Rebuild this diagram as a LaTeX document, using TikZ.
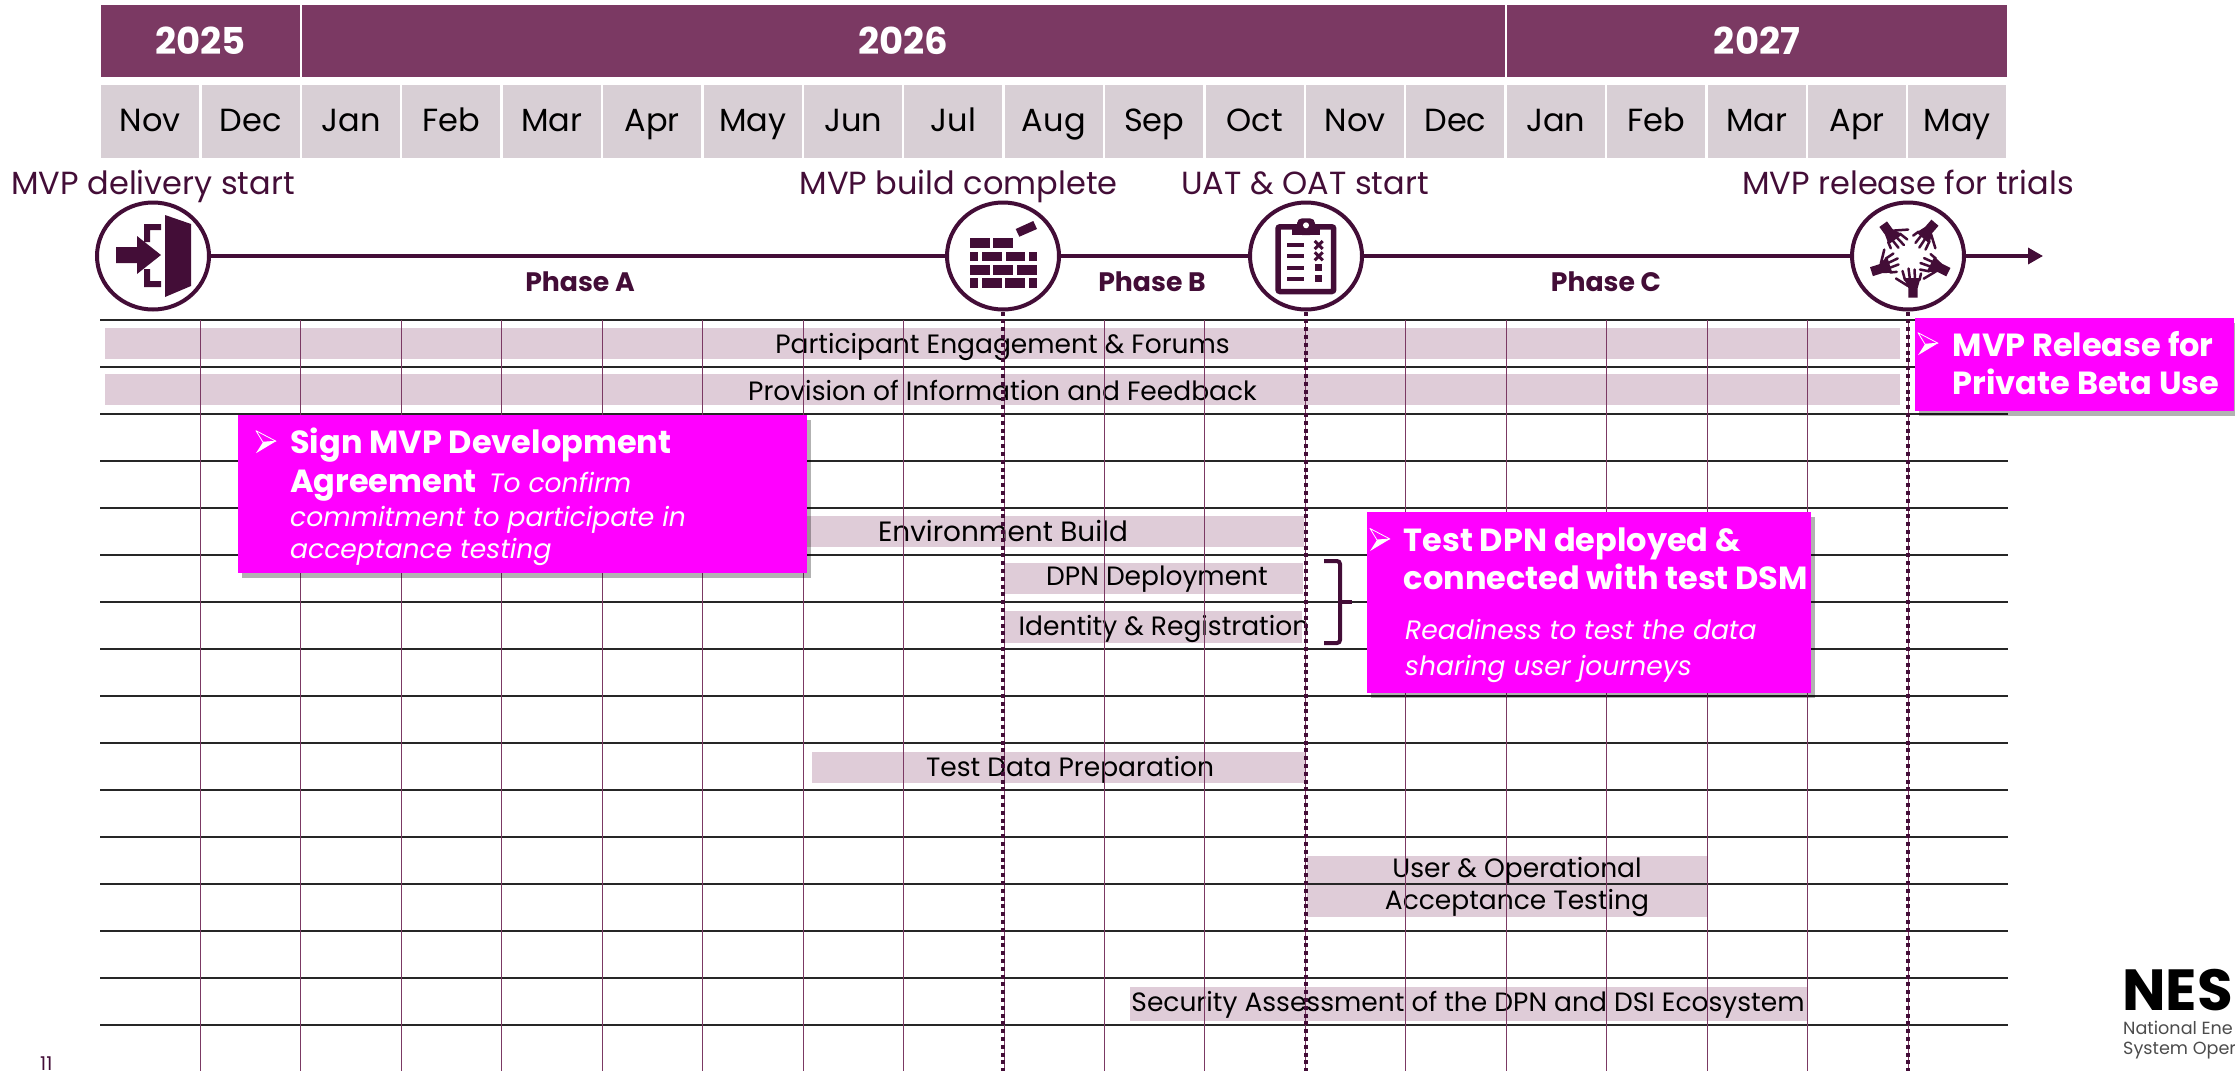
\documentclass[tikz,border=0pt]{standalone}
\usepackage{fontspec}
\setmainfont{Poppins}
\usetikzlibrary{matrix, positioning, arrows.meta, shapes.geometric, shadows}

\definecolor{plum}{HTML}{430D37}
\definecolor{yearfill}{HTML}{7B3963}
\definecolor{monthfill}{HTML}{D8CFD5}
\definecolor{barfill}{HTML}{DFCCD8}
\definecolor{calloutfill}{HTML}{FF00FF}
\newcommand{\sized}[1]{\fontsize{#1}{#1}\selectfont}

\tikzset{
  pics/openhand/.style={code={
    \fill[plum] (-6.5,22) -- (10.5,22) -- (7.7,32) -- (7.7,41.5) -- (-1.7,41.5) -- (-1.7,32) -- cycle;
    \draw[plum, line width=2.5pt, line cap=round]
      (-5,24) -- (-7.5,15) (0,24) -- (-1.5,12.5) (5,24) -- (4.5,13.5) (9.5,24) -- (11,17.5)
      (-2,30) -- (-14,22.5);
  }},
  pics/calltick/.style={code={
    \draw[white, line width=.8pt, line join=round] (-10,-11) -- (10,-0.5) -- (-3,0.5) -- cycle;
    \fill[white] (-3,0.5) -- (10,-0.5) -- (-10,11.5) -- cycle;
  }}
}

\begin{document}
\begin{tikzpicture}[
    x=1pt, y=-1pt,
    yearcell/.style={fill=yearfill, text=white, font=\sized{37}\bfseries, inner sep=0, outer sep=0, minimum height=72pt, anchor=west},
    month-row/.style={matrix of nodes, inner sep=0, column sep=2.4pt, nodes={fill=monthfill, text=black, font=\sized{32}, inner sep=0, minimum width=98pt, minimum height=73pt, text height=23pt, text depth=2.6pt}},
    milestone/.style={ellipse, draw=plum, line width=4pt, fill=white, minimum width=112pt, minimum height=107pt, inner sep=0},
    milestonelabel/.style={text=plum, font=\sized{32}, anchor=base, inner sep=0},
    phaselabel/.style={text=plum, font=\sized{26.7}\bfseries, inner sep=0},
    timeline/.style={draw=plum, line width=4pt},
    bar/.style={fill=barfill, inner sep=0, outer sep=0},
    barlabel/.style={text=black, font=\sized{26.5}, inner sep=0, text height=19pt, text depth=0pt},
    gridrow/.style={draw=black!85, line width=1.4pt},
    gridcol/.style={draw=yearfill, line width=1pt},
    gatedots/.style={draw=plum, line width=4pt, dash pattern=on 4pt off 3.8pt},
    callout/.style={fill=calloutfill, inner sep=0, outer sep=0, anchor=north west, drop shadow={shadow xshift=4pt, shadow yshift=-5pt, fill=black, opacity=.3}},
    calltitle/.style={text=white, font=\sized{32}\bfseries, anchor=base west, inner sep=0},
    callnote/.style={text=white, font=\sized{26.6}\itshape, anchor=base west, inner sep=0}
  ]

  \useasboundingbox (0,0) rectangle (2235,1071);
  \coordinate (gridbottom) at (0,1071);

  % header
  \node (y2025) [yearcell, minimum width=199pt] at (101,41) {2025};
  \node (y2026) [yearcell, minimum width=1203pt, right=2pt of y2025] {2026};
  \node (y2027) [yearcell, minimum width=500pt, right=2pt of y2026] {2027};

  \matrix (months) [month-row, anchor=north west] at (101,85) {
    Nov & Dec & Jan & Feb & Mar & Apr & May & Jun & Jul & Aug & Sep & Oct & Nov & Dec & Jan & Feb & Mar & Apr & May \\
  };

  % activity bars
  \node (engage) [bar, barlabel, minimum width=1795pt, minimum height=31pt] at (1002.5,343.5) {Participant Engagement \& Forums};
  \node (inform) [bar, minimum width=1795pt, minimum height=31pt] at (1002.5,389.5) {};
  \node (envbar) [bar, barlabel, font=\sized{27.9}, minimum width=602pt, minimum height=31pt] at (1003,531.5) {Environment Build};
  \node (dpnbar) [bar, minimum width=298pt, minimum height=31pt] at (1154,578.5) {};
  \node (idbar) [bar, minimum width=298pt, minimum height=32pt] at (1153,627) {};
  \node (databar) [bar, minimum width=493pt, minimum height=31pt] at (1058.5,767.5) {};
  \node (uatbar) [bar, minimum width=400pt, minimum height=61pt] at (1507,886.5) {};
  \node (secbar) [bar, minimum width=678pt, minimum height=34pt] at (1469,1004) {};
  \node (informlabel) [barlabel] at (1002.5,390.5) {Provision of Information and Feedback};
  \node (dpnlabel) [barlabel] at (1157,576) {DPN Deployment};
  \node (idlabel) [barlabel] at (1164,625.5) {Identity \& Registration};
  \node (datalabel) [barlabel] at (1070,767) {Test Data Preparation};
  \node (uatlabela) [barlabel] at (1517,867.5) {User \& Operational};
  \node (uatlabelb) [barlabel] at (1517,899.5) {Acceptance Testing};
  \node (seclabel) [barlabel] at (1468,1002) {Security Assessment of the DPN and DSI Ecosystem};

  % grid
  \foreach \row in {0,...,15}
    \draw[gridrow] (100,{320+47*\row}) -- (2008,{320+47*\row});
  \foreach \col in {1,...,18}
    \draw[gridcol] ({100+100.45*\col},320) -- ({100+100.45*\col},1071);

  % milestones
  \node (start) [milestone] at (153,256) {};
  \node (build) [milestone] at (1003,256) {};
  \node (uat) [milestone] at (1306,256) {};
  \node (trials) [milestone] at (1908,256) {};
  \coordinate (lineend) at (2043,256);

  \draw[timeline] (start) -- (build);
  \draw[timeline] (build) -- (uat);
  \draw[timeline] (uat) -- (trials);
  \draw[timeline, line width=3.4pt, -{Triangle[length=15pt, width=16pt]}] (trials) -- (lineend);

  \draw[gatedots] (build.south) -- (build.south |- gridbottom);
  \draw[gatedots] (uat.south) -- (uat.south |- gridbottom);
  \draw[gatedots] (trials.south) -- (trials.south |- gridbottom);

  \node [milestonelabel] at (153,194) {MVP delivery start};
  \node [milestonelabel] at (958.5,194) {MVP build complete};
  \node [milestonelabel] at (1305,194) {UAT \& OAT start};
  \node [milestonelabel] at (1908,194) {MVP release for trials};

  \node [phaselabel] at (580,282) {Phase A};
  \node [phaselabel] at (1152,282) {Phase B};
  \node [phaselabel] at (1606,282) {Phase C};

  % door icon
  \fill[plum] (116,247) -- (137,247) -- (137,236) -- (161,255) -- (137,274) -- (137,263) -- (116,263) -- cycle;
  \fill[plum] (165,215) -- (191,224) -- (191,286) -- (165,297) -- cycle;
  \fill[plum] (161,224) -- (144,224) -- (144,242) -- (150,242) -- (150,230) -- (161,230) -- cycle;
  \fill[plum] (161,287) -- (144,287) -- (144,269) -- (150,269) -- (150,281) -- (161,281) -- cycle;

  % brick icon
  \foreach \xa/\xb/\ya in {970/989.7/238.3, 993/1013/238.3,
      970/978/251.7, 982/1002/251.7, 1005.7/1025/251.7, 1029/1037/251.7,
      970/990/265, 993/1013/265, 1017.3/1037/265,
      970/978/278.3, 981.7/1001.7/278.3, 1005/1025/278.3, 1029/1037/278.3}
    \fill[plum] (\xa,\ya) rectangle (\xb,\ya+9.5);
  \fill[plum] (1015.7,229) -- (1033.3,221) -- (1037,229) -- (1019.3,236.7) -- cycle;

  % clipboard icon
  \draw[plum, line width=5.5pt, rounded corners=2pt] (1278,226.8) rectangle (1333.7,291.5);
  \fill[plum, rounded corners=5pt] (1297,235) -- (1297,218.3) -- (1315,218.3) -- (1315,235) -- cycle;
  \fill[plum] (1292.3,235) rectangle (1320,228);
  \fill[white] (1306,225.3) circle (3);
  \foreach \ya in {245,256.3,268,279}
    \draw[plum, line width=4pt] (1287.3,\ya) -- (1304,\ya);
  \foreach \ya in {245,256.3}
    \draw[plum, line width=3pt] (1314.7,\ya-4) -- (1322.7,\ya+4) (1322.7,\ya-4) -- (1314.7,\ya+4);
  \foreach \ya in {264.3,275}
    \fill[plum] (1315.3,\ya) rectangle (1322,\ya+7);

  % hands icon
  \foreach \turn in {0,63,139,216,288}
    \pic[xshift=2pt, rotate=\turn] at (trials) {openhand};

  % bracket
  \coordinate (bracetop) at (1324,561);
  \coordinate (bracebottom) at (1324,643);
  \coordinate (bracemid) at (1340,602);
  \coordinate (bracetip) at (1352,602);
  \draw[plum, line width=4pt, rounded corners=3pt] (bracetop) -- (bracetop -| bracemid) -- (bracebottom -| bracemid) -- (bracebottom);
  \draw[plum, line width=4pt] (bracemid) -- (bracetip);

  % callouts
  \node (signbox) [callout, minimum width=569pt, minimum height=157.5pt] at (238,415) {};
  \pic at (266,441.7) {calltick};
  \node [calltitle] at (290,453) {Sign MVP Development};
  \node [calltitle] at (290,492) {Agreement};
  \node [callnote] at (489,492) {To confirm};
  \node [callnote] at (290,526) {commitment to participate in};
  \node [callnote] at (290,558) {acceptance testing};

  \node (dpnbox) [callout, minimum width=444pt, minimum height=181pt] at (1367,512) {};
  \pic at (1380,539.5) {calltick};
  \node [calltitle] at (1403.5,551) {Test DPN deployed \&};
  \node [calltitle] at (1403.5,589) {connected with test DSM};
  \node [callnote] at (1405,639) {Readiness to test the data};
  \node [callnote] at (1405,675) {sharing user journeys};

  \node (releasebox) [callout, minimum width=319pt, minimum height=93pt] at (1915,318) {};
  \pic at (1928,343.7) {calltick};
  \node [calltitle] at (1952.5,356) {MVP Release for};
  \node [calltitle] at (1952.5,394) {Private Beta Use};

  % footer
  \node (logo) [anchor=base west, inner sep=0, font=\sized{58}\bfseries] at (2122,1010) {NES};
  \node (logoa) [anchor=base west, inner sep=0, text=black!70, font=\sized{17.6}] at (2123,1034) {National Ene};
  \node (logob) [anchor=base west, inner sep=0, text=black!70, font=\sized{17.6}] at (2123,1054) {System Oper};
  \node (pageno) [anchor=base west, inner sep=0, text=plum, font=\sized{19}] at (40,1070) {11};

\end{tikzpicture}
\end{document}
